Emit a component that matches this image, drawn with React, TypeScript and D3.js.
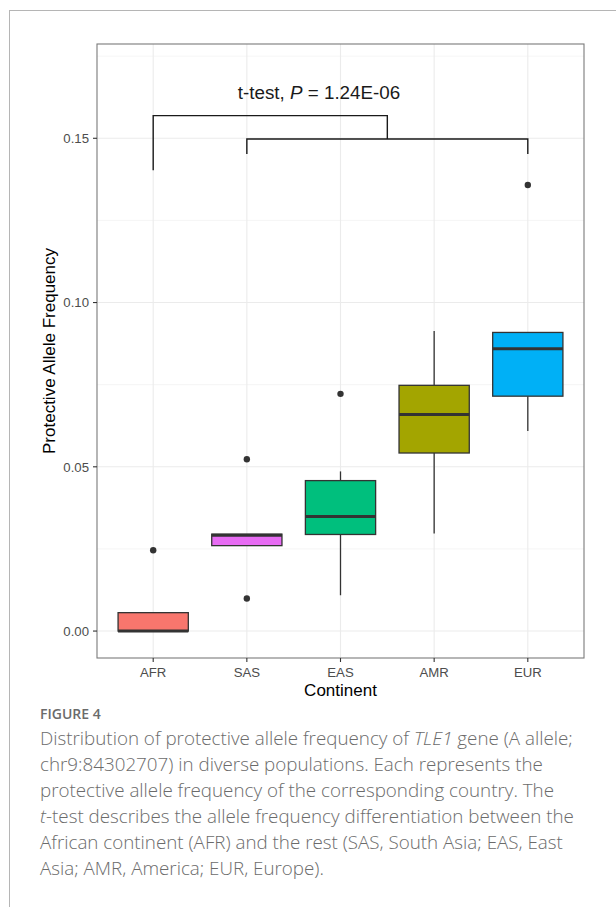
import React from "react";
import * as d3 from "d3";

// Per-continent box summaries of the protective allele frequency
const continents = ["AFR", "SAS", "EAS", "AMR", "EUR"];
const lowerWhisker = [0.0, 0.026, 0.0109, 0.0297, 0.0609];
const lowerQuartile = [0.0, 0.026, 0.0294, 0.0542, 0.0715];
const medians = [0.0, 0.0292, 0.0349, 0.0659, 0.0859];
const upperQuartile = [0.0056, 0.0295, 0.0458, 0.0748, 0.0909];
const upperWhisker = [0.0056, 0.0295, 0.0486, 0.0913, 0.0909];
const outliers: number[][] = [[0.0246], [0.0523, 0.0099], [0.0722], [], [0.1358]];
const fills = ["#F8766D", "#E76BF3", "#00BF7D", "#A3A500", "#00B0F6"];

const majorTicks = [0, 0.05, 0.1, 0.15];
const minorTicks = [0.025, 0.075, 0.125, 0.175];

// Comparison bracket: AFR vs. the rest (SAS..EUR)
const groupA = ["AFR"];
const groupB = ["SAS", "EAS", "AMR", "EUR"];
const bracketTop = 0.1569;
const bracketLow = 0.1498;
const legA = 0.1403;
const legB = 0.1452;

const captionLines = [
  ["Distribution of protective allele frequency of ", "TLE1", " gene (A allele;"],
  ["chr9:84302707) in diverse populations. Each represents the"],
  ["protective allele frequency of the corresponding country. The"],
  ["", "t", "-test describes the allele frequency differentiation between the"],
  ["African continent (AFR) and the rest (SAS, South Asia; EAS, East"],
  ["Asia; AMR, America; EUR, Europe)."],
];

const W = 616;
const H = 907;
const panel = { left: 97, right: 584, top: 44, bottom: 658 };

export default function App() {
  const x = d3
    .scalePoint<string>()
    .domain(continents)
    .range([panel.left, panel.right])
    .padding(0.6);
  const step = x.step();
  const boxW = step * 0.75;
  const y = d3.scaleLinear().domain([-0.0082, 0.1787]).range([panel.bottom, panel.top]);

  const font = "'Liberation Sans', Arial, Helvetica, sans-serif";
  const capFont = "'Open Sans', 'Noto Sans', sans-serif";

  const xA = d3.mean(groupA, (c) => x(c)!)!;
  const xB0 = x(groupB[0])!;
  const xB1 = x(groupB[groupB.length - 1])!;
  const xBmid = (xB0 + xB1) / 2;

  return (
    <svg
      width={W}
      height={H}
      style={{ position: "absolute", left: 0, top: 0, background: "#fff" }}
    >
      {/* page frame */}
      <line x1={9} x2={W} y1={10.5} y2={10.5} stroke="#b5b5b5" strokeWidth={1} />
      <line x1={9.5} x2={9.5} y1={10} y2={H} stroke="#b5b5b5" strokeWidth={1} />

      {/* grid */}
      {minorTicks.map((t) => (
        <line key={"mi" + t} x1={panel.left} x2={panel.right} y1={y(t)} y2={y(t)} stroke="#F2F2F2" strokeWidth={0.8} />
      ))}
      {majorTicks.map((t) => (
        <line key={"ma" + t} x1={panel.left} x2={panel.right} y1={y(t)} y2={y(t)} stroke="#EBEBEB" strokeWidth={1.1} />
      ))}
      {continents.map((c) => (
        <line key={"v" + c} x1={x(c)} x2={x(c)} y1={panel.top} y2={panel.bottom} stroke="#EBEBEB" strokeWidth={1.1} />
      ))}

      {/* boxes */}
      {continents.map((c, i) => {
        const cx = x(c)!;
        return (
          <g key={c}>
            <line x1={cx} x2={cx} y1={y(upperQuartile[i])} y2={y(upperWhisker[i])} stroke="#333" strokeWidth={1.3} />
            <line x1={cx} x2={cx} y1={y(lowerQuartile[i])} y2={y(lowerWhisker[i])} stroke="#333" strokeWidth={1.3} />
            <rect
              x={cx - boxW / 2}
              y={y(upperQuartile[i])}
              width={boxW}
              height={y(lowerQuartile[i]) - y(upperQuartile[i])}
              fill={fills[i]}
              stroke="#333"
              strokeWidth={1.3}
            />
            <line x1={cx - boxW / 2} x2={cx + boxW / 2} y1={y(medians[i])} y2={y(medians[i])} stroke="#333" strokeWidth={3} />
            {outliers[i].map((v, j) => (
              <circle key={j} cx={cx} cy={y(v)} r={3.2} fill="#333" />
            ))}
          </g>
        );
      })}

      {/* panel border */}
      <rect
        x={panel.left}
        y={panel.top}
        width={panel.right - panel.left}
        height={panel.bottom - panel.top}
        fill="none"
        stroke="#7a7a7a"
        strokeWidth={1.1}
      />

      {/* significance bracket */}
      <path
        d={`M${xA},${y(legA)}V${y(bracketTop)}H${xBmid}V${y(bracketLow)}`}
        fill="none"
        stroke="#1a1a1a"
        strokeWidth={1.4}
      />
      <path
        d={`M${xB0},${y(legB)}V${y(bracketLow)}H${xB1}V${y(legB)}`}
        fill="none"
        stroke="#1a1a1a"
        strokeWidth={1.4}
      />
      <text x={319} y={99} textAnchor="middle" fontFamily={font} fontSize={18.8} fill="#1a1a1a">
        t-test, <tspan fontStyle="italic">P</tspan> = 1.24E-06
      </text>

      {/* y axis */}
      {majorTicks.map((t) => (
        <g key={"yt" + t}>
          <line x1={panel.left - 4} x2={panel.left} y1={y(t)} y2={y(t)} stroke="#333" strokeWidth={1.1} />
          <text x={panel.left - 8} y={y(t)} dy="0.36em" textAnchor="end" fontFamily={font} fontSize={13.2} fill="#4D4D4D">
            {d3.format(".2f")(t)}
          </text>
        </g>
      ))}
      <text
        transform={`translate(55,${(panel.top + panel.bottom) / 2}) rotate(-90)`}
        textAnchor="middle"
        fontFamily={font}
        fontSize={17}
        fill="#000"
      >
        Protective Allele Frequency
      </text>

      {/* x axis */}
      {continents.map((c) => (
        <g key={"xt" + c}>
          <line x1={x(c)} x2={x(c)} y1={panel.bottom} y2={panel.bottom + 4} stroke="#333" strokeWidth={1.1} />
          <text x={x(c)} y={panel.bottom + 19} textAnchor="middle" fontFamily={font} fontSize={13.2} fill="#4D4D4D">
            {c}
          </text>
        </g>
      ))}
      <text x={(panel.left + panel.right) / 2} y={696} textAnchor="middle" fontFamily={font} fontSize={17} fill="#000">
        Continent
      </text>

      {/* caption */}
      <text x={40} y={719} fontFamily={capFont} fontSize={14} fontWeight={600} fill="#6b6b6b">
        FIGURE 4
      </text>
      {captionLines.map((parts, i) => (
        <text key={i} x={40} y={745 + i * 26} fontFamily={capFont} fontSize={18.8} fontWeight={300} fill="#6b6b6b">
          {parts.map((p, k) =>
            k % 2 === 1 ? (
              <tspan key={k} fontStyle="italic">
                {p}
              </tspan>
            ) : (
              <tspan key={k}>{p}</tspan>
            )
          )}
        </text>
      ))}
    </svg>
  );
}
